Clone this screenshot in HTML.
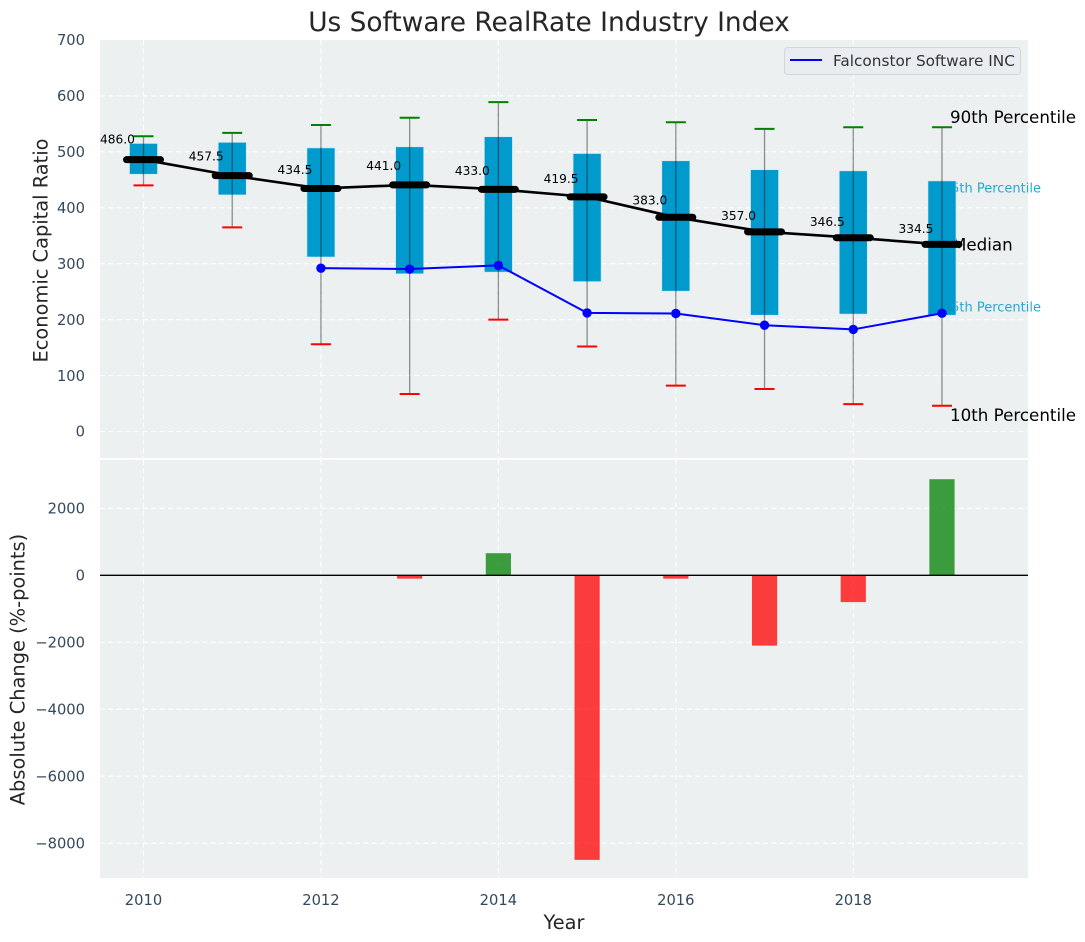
<!DOCTYPE html>
<html lang="en">
<head>
<meta charset="utf-8">
<title>Us Software RealRate Industry Index</title>
<style>
html,body{margin:0;padding:0;background:#fff;width:1085px;height:942px;overflow:hidden}
svg{display:block;font-family:"DejaVu Sans","Liberation Sans",sans-serif}
</style>
</head>
<body>
<svg id="chart" width="1085" height="942" viewBox="0 0 1085 942" xmlns="http://www.w3.org/2000/svg">
  <rect width="1085" height="942" fill="#ffffff"/>
  <rect x="100" y="40" width="928" height="418" fill="#ecf0f1"/>
  <rect x="100" y="459.8" width="928" height="418.2" fill="#ecf0f1"/>
  <g id="grid"></g>
  <g id="percentile-labels">
    <text x="1041" y="192.5" font-size="13" text-anchor="end" fill="#009acd" fill-opacity="0.85">75th Percentile</text>
    <text x="1041" y="311.5" font-size="13" text-anchor="end" fill="#009acd" fill-opacity="0.85">25th Percentile</text>
    <text x="952" y="250.5" font-size="16.7" fill="#000000">Median</text>
  </g>
  <g id="boxes"></g>
  <g id="whiskers"></g>
  <g id="median-series"></g>
  <g id="company-series"></g>
  <g id="median-values"></g>
  <text x="950" y="123" font-size="16.7" fill="#000000">90th Percentile</text>
  <text x="950" y="421" font-size="16.7" fill="#000000">10th Percentile</text>
  <g id="bars"></g>
  <line x1="100" x2="1028" y1="575.3" y2="575.3" stroke="#000000" stroke-width="1.4"/>
  <g id="ticks" font-size="14.7" fill="#34495e"></g>
  <text x="549" y="31" font-size="26.4" text-anchor="middle" fill="#262626">Us Software RealRate Industry Index</text>
  <text x="0" y="0" transform="translate(47.5 250.5) rotate(-90)" font-size="19.4" text-anchor="middle" fill="#262626">Economic Capital Ratio</text>
  <text x="0" y="0" transform="translate(24.5 669.5) rotate(-90)" font-size="19.4" text-anchor="middle" fill="#262626">Absolute Change (%-points)</text>
  <text x="564" y="929" font-size="19.4" text-anchor="middle" fill="#262626">Year</text>
  <g>
    <rect x="784.5" y="47.5" width="236" height="27" rx="3" fill="#e9ecf1" stroke="#d4d6da"/>
    <line x1="790" x2="822" y1="60" y2="60" stroke="#0000ff" stroke-width="2"/>
    <text x="833" y="66" font-size="15.3" fill="#333333">Falconstor Software INC</text>
  </g>
</svg>
<script>
const years = [2010, 2011, 2012, 2013, 2014, 2015, 2016, 2017, 2018, 2019];
const p90 = [528, 534, 548, 561, 589, 557, 553, 541, 544, 544];
const p75 = [515, 517, 507, 509, 527, 497, 484, 468, 466, 448];
const medians = [486.0, 457.5, 434.5, 441.0, 433.0, 419.5, 383.0, 357.0, 346.5, 334.5];
const p25 = [460, 423, 312, 282, 285, 268, 251, 208, 210, 208];
const p10 = [440, 365, 156, 67, 200, 152, 82, 76, 49, 46];
const company = [null, null, 292, 290.5, 297, 212, 211, 190, 182.5, 211.5];
const changes = [0, 0, 0, -100, 660, -8500, -100, -2100, -800, 2870];
const topTicks = [0, 100, 200, 300, 400, 500, 600, 700];
const bottomTicks = [-8000, -6000, -4000, -2000, 0, 2000];
const yearTicks = [2010, 2012, 2014, 2016, 2018];

const NS = 'http://www.w3.org/2000/svg';
const xScale = function (v) { return 143.5 + (v - 2010) * 88.72; };
const yTop = function (v) { return 431.5 - v * 0.5593; };
const yBottom = function (v) { return 575.3 - v * 0.03348; };

function make(tag, parent, attrs) {
  const el = document.createElementNS(NS, tag);
  for (const k in attrs) el.setAttribute(k, attrs[k]);
  parent.appendChild(el);
  return el;
}
const byId = function (id) { return document.getElementById(id); };

const grid = byId('grid');
const gridStyle = { stroke: '#ffffff', 'stroke-width': 1.1, 'stroke-dasharray': '5 3.5', 'stroke-opacity': 0.95 };
topTicks.forEach(function (t) {
  const y = yTop(t);
  if (y <= 40.5) return;
  const el = make('line', grid, Object.assign({ x1: 100, x2: 1028, y1: y, y2: y }, gridStyle));
  
  
});
bottomTicks.forEach(function (t) {
  const y = yBottom(t);
  const el = make('line', grid, Object.assign({ x1: 100, x2: 1028, y1: y, y2: y }, gridStyle));
  
  
});
yearTicks.forEach(function (t) {
  const x = xScale(t);
  const a = make('line', grid, Object.assign({ x1: x, x2: x, y1: 40, y2: 458 }, gridStyle));
  
  
  const b = make('line', grid, Object.assign({ x1: x, x2: x, y1: 460, y2: 878 }, gridStyle));
  
  
});

const boxes = byId('boxes');
const whiskers = byId('whiskers');
const medianValues = byId('median-values');
years.forEach(function (yr, i) {
  const x = xScale(yr);
  const box = make('rect', boxes, { x: x - 14, y: yTop(p75[i]), width: 28, height: yTop(p25[i]) - yTop(p75[i]), fill: '#009acd', stroke: '#cfe9f2', 'stroke-width': 0.6 });
  
  

  const w = make('line', whiskers, { x1: x, x2: x, y1: yTop(p90[i]), y2: yTop(p10[i]), stroke: '#000000', 'stroke-opacity': 0.42, 'stroke-width': 1.3 });
  
  

  const hi = make('line', whiskers, { x1: x - 10, x2: x + 10, y1: yTop(p90[i]), y2: yTop(p90[i]), stroke: '#008000', 'stroke-width': 2 });
  
  

  const lo = make('line', whiskers, { x1: x - 10, x2: x + 10, y1: yTop(p10[i]), y2: yTop(p10[i]), stroke: '#ff0000', 'stroke-width': 2 });
  
  

  const label = make('text', medianValues, { x: x - 26, y: yTop(medians[i] * 1.06), 'font-size': 12.2, 'text-anchor': 'middle', fill: '#000000' });
  label.textContent = medians[i].toFixed(1);
  
  
});

const medianSeries = byId('median-series');
const medianLine = make('polyline', medianSeries, {
  points: years.map(function (yr, i) { return xScale(yr) + ',' + yTop(medians[i]); }).join(' '),
  fill: 'none', stroke: '#000000', 'stroke-width': 2.6
});


years.forEach(function (yr, i) {
  const x = xScale(yr);
  const m = make('line', medianSeries, { x1: x - 17, x2: x + 17, y1: yTop(medians[i]), y2: yTop(medians[i]), stroke: '#000000', 'stroke-width': 7, 'stroke-linecap': 'round' });
  
  
});

const companySeries = byId('company-series');
const companyPoints = years.map(function (yr, i) { return company[i] === null ? null : [xScale(yr), yTop(company[i])]; }).filter(Boolean);
const companyLine = make('polyline', companySeries, {
  points: companyPoints.map(function (p) { return p.join(','); }).join(' '),
  fill: 'none', stroke: '#0000ff', 'stroke-width': 2
});


companyPoints.forEach(function (p) {
  const c = make('circle', companySeries, { cx: p[0], cy: p[1], r: 4.7, fill: '#0000ff' });
  
  
});

const bars = byId('bars');
years.forEach(function (yr, i) {
  if (changes[i] === 0) return;
  const y0 = yBottom(0);
  const y1 = yBottom(changes[i]);
  const b = make('rect', bars, {
    x: xScale(yr) - 12.6, y: Math.min(y0, y1), width: 25.2, height: Math.abs(y1 - y0),
    fill: changes[i] > 0 ? '#008000' : '#ff0000', 'fill-opacity': 0.75
  });
  
  
});

const ticks = byId('ticks');
const fmt = function (t) { return String(t).replace('-', '\u2212'); };
topTicks.forEach(function (t) {
  const el = make('text', ticks, { x: 85, y: yTop(t) + 5.2, 'text-anchor': 'end' });
  el.textContent = fmt(t);
  
  
});
bottomTicks.forEach(function (t) {
  const el = make('text', ticks, { x: 85, y: yBottom(t) + 5.2, 'text-anchor': 'end' });
  el.textContent = fmt(t);
  
  
});
yearTicks.forEach(function (t) {
  const el = make('text', ticks, { x: xScale(t), y: 905, 'text-anchor': 'middle' });
  el.textContent = String(t);
  
  
});
</script>
</body>
</html>
